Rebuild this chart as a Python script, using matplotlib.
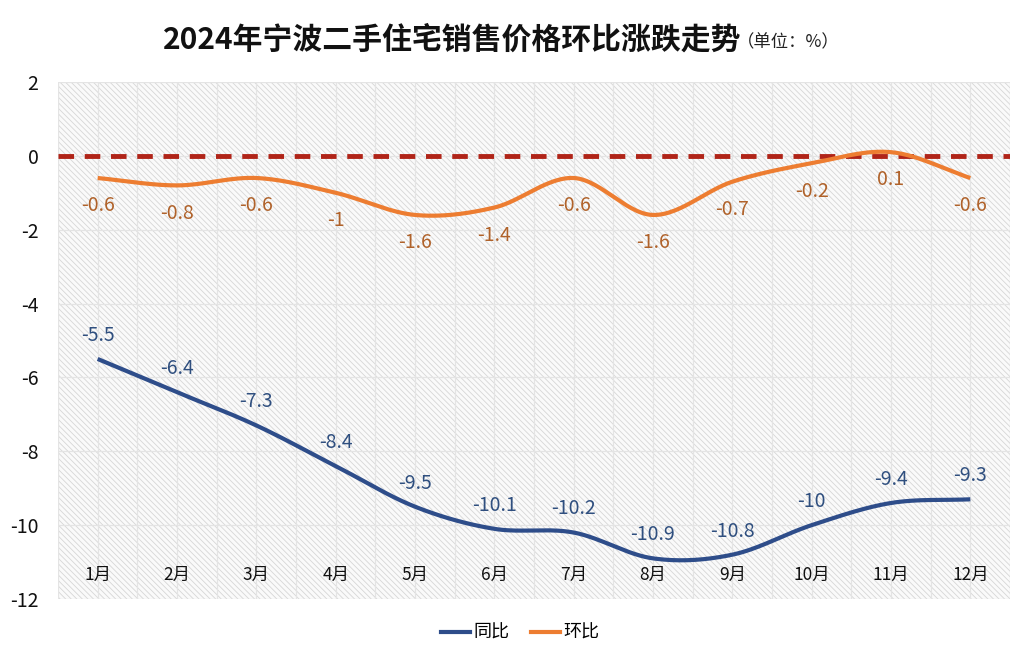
import matplotlib
matplotlib.use("Agg")
import matplotlib.pyplot as plt
import numpy as np
from matplotlib.patches import Rectangle
from matplotlib.lines import Line2D

plt.rcParams['font.family'] = ['Noto Sans CJK SC', 'DejaVu Sans']
plt.rcParams['hatch.linewidth'] = 0.6

months = ['1月', '2月', '3月', '4月', '5月', '6月', '7月', '8月', '9月', '10月', '11月', '12月']
yoy = [-5.5, -6.4, -7.3, -8.4, -9.5, -10.1, -10.2, -10.9, -10.8, -10, -9.4, -9.3]
mom = [-0.6, -0.8, -0.6, -1, -1.6, -1.4, -0.6, -1.6, -0.7, -0.2, 0.1, -0.6]
yticks = [2, 0, -2, -4, -6, -8, -10, -12]

blue = '#2E4D8A'
orange = '#ED7D31'
blue_lbl = '#2F4F7F'
orange_lbl = '#B0622A'


def smooth(xs, ys, n=30):
    xs = np.asarray(xs, float)
    ys = np.asarray(ys, float)
    P = np.column_stack([xs, ys])
    P = np.vstack([2 * P[0] - P[1], P, 2 * P[-1] - P[-2]])
    out = []
    for i in range(1, len(P) - 2):
        p0, p1, p2, p3 = P[i - 1], P[i], P[i + 1], P[i + 2]
        t = np.linspace(0, 1, n, endpoint=False)[:, None]
        seg = 0.5 * ((2 * p1) + (-p0 + p2) * t + (2 * p0 - 5 * p1 + 4 * p2 - p3) * t ** 2
                     + (-p0 + 3 * p1 - 3 * p2 + p3) * t ** 3)
        out.append(seg)
    out.append(P[-2][None, :])
    out = np.vstack(out)
    return out[:, 0], out[:, 1]


fig = plt.figure(figsize=(10.24, 6.59), dpi=100)
ax = fig.add_axes([58 / 1024, 1 - 599 / 659, (1010 - 58) / 1024, (599 - 82) / 659])

x = np.arange(len(months))
ax.set_xlim(-0.5, len(months) - 0.5)
ax.set_ylim(-12, 2)

ax.set_facecolor('#FAFAFA')
ax.add_patch(Rectangle((0, 0), 1, 1, transform=ax.transAxes, facecolor='none',
                       edgecolor='#D6D6D6', hatch='\\\\\\\\\\\\', lw=0, zorder=0))

# grid
for gx in np.arange(-0.5, len(months), 0.5):
    ax.axvline(gx, color='#E4E4E4', lw=0.9, zorder=0.5)
for gy in yticks:
    ax.axhline(gy, color='#E4E4E4', lw=0.9, zorder=0.5)

ax.axhline(0, color='#B02418', lw=3.5, ls=(0, (3.2, 2.2)), zorder=2)

sx, sy = smooth(x, yoy)
ax.plot(sx, sy, color=blue, lw=3, zorder=3, solid_capstyle='butt')
sx, sy = smooth(x, mom)
ax.plot(sx, sy, color=orange, lw=3, zorder=3, solid_capstyle='butt')

for xi, v in zip(x, yoy):
    ax.annotate(f'{v:g}', (xi, v), xytext=(0, 17), textcoords='offset points',
                ha='center', va='center', fontsize=14, color=blue_lbl, zorder=4)
for xi, v in zip(x, mom):
    ax.annotate(f'{v:g}', (xi, v), xytext=(0, -20), textcoords='offset points',
                ha='center', va='center', fontsize=14, color=orange_lbl, zorder=4)

ax.set_xticks(x)
ax.set_xticklabels(months, fontsize=12.5, color='#111111')
ax.tick_params(axis='x', length=0, pad=-24)
ax.set_yticks(yticks)
ax.set_yticklabels([f'{v}' for v in yticks], fontsize=14, color='#111111')
ax.tick_params(axis='y', length=0, pad=14)
for s in ax.spines.values():
    s.set_visible(False)

fig.text(163 / 1024, 1 - 40 / 659, '2024年宁波二手住宅销售价格环比涨跌走势', fontsize=21.5,
         fontweight='bold', ha='left', va='center', color='#111111')
fig.text(737 / 1024, 1 - 42 / 659, '（单位：%）', fontsize=12.5, ha='left', va='center', color='#222222')

handles = [Line2D([], [], color=blue, lw=3), Line2D([], [], color=orange, lw=3)]
fig.legend(handles, ['同比', '环比'], loc='center', bbox_to_anchor=(520 / 1024, 1 - 633 / 659),
           ncol=2, frameon=False, fontsize=13, handlelength=1.6, handletextpad=0.2, columnspacing=1.2)

fig.savefig('out.png', dpi=100, facecolor='white')
